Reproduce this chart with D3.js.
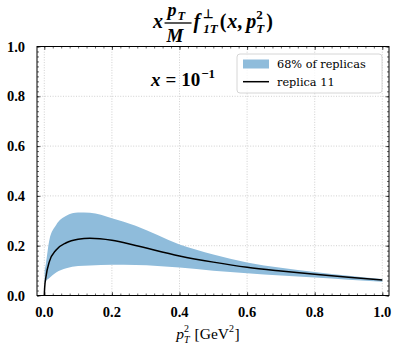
<!DOCTYPE html>
<html>
<head>
<meta charset="utf-8">
<script src="https://cdnjs.cloudflare.com/ajax/libs/d3/7.8.5/d3.min.js"></script>
<style>
  body { margin: 0; background: #fff; }
  svg { display: block; }
  .tick-label { font-family: "Liberation Serif", serif; font-weight: bold; font-size: 14.5px; fill: #000; }
  .math text { font-family: "Liberation Serif", serif; fill: #000; }
  .legendText { font-family: "DejaVu Serif", serif; font-size: 11.3px; fill: #000; }
</style>
</head>
<body>
<svg id="chart"></svg>
<script>
// p_T^2 sample points and the band / replica values
var pt2 = [0, 0.001, 0.005, 0.015, 0.035, 0.065, 0.1, 0.135, 0.2, 0.27, 0.4, 0.5, 0.6, 0.7, 0.8, 0.9, 1.0];
var replica = [0, 0.03, 0.076, 0.136, 0.183, 0.212, 0.226, 0.23, 0.222, 0.201, 0.159, 0.134, 0.113, 0.098, 0.085, 0.073, 0.062];
var bandUpper = [null, 0.1, 0.13, 0.223, 0.283, 0.32, 0.333, 0.332, 0.31, 0.28, 0.205, 0.165, 0.133, 0.111, 0.094, 0.079, 0.066];
var bandLower = [null, 0.05, 0.058, 0.07, 0.092, 0.109, 0.118, 0.12, 0.123, 0.122, 0.112, 0.099, 0.089, 0.08, 0.072, 0.063, 0.055];

var xTicks = [0.0, 0.2, 0.4, 0.6, 0.8, 1.0];
var yTicks = [0.0, 0.2, 0.4, 0.6, 0.8, 1.0];
var legendLabels = ["68% of replicas", "replica 11"];

var W = 399, H = 352;
var margin = {top: 46.5, right: 10, bottom: 56.5, left: 37};
var width = W - margin.left - margin.right,
    height = H - margin.top - margin.bottom;

var svg = d3.select("#chart").attr("width", W).attr("height", H);

var x = d3.scaleLinear().domain([-0.0216, 1.0198]).range([0, width]);
var y = d3.scaleLinear().domain([0, 1]).range([height, 0]);

var g = svg.append("g").attr("transform", "translate(" + margin.left + "," + margin.top + ")");

// grid
g.append("g").selectAll("line").data(xTicks).enter().append("line")
  .attr("x1", function(d) { return x(d); }).attr("x2", function(d) { return x(d); })
  .attr("y1", 0).attr("y2", height)
  .attr("stroke", "#b0b0b0").attr("stroke-width", 0.6).attr("stroke-dasharray", "1,1.6");
g.append("g").selectAll("line").data(yTicks).enter().append("line")
  .attr("y1", function(d) { return y(d); }).attr("y2", function(d) { return y(d); })
  .attr("x1", 0).attr("x2", width)
  .attr("stroke", "#b0b0b0").attr("stroke-width", 0.6).attr("stroke-dasharray", "1,1.6");

// band + replica
var rows = pt2.map(function(d, i) { return {x: d, lo: bandLower[i], hi: bandUpper[i], c: replica[i]}; });

var area = d3.area()
  .defined(function(d) { return d.lo != null; })
  .x(function(d) { return x(d.x); })
  .y0(function(d) { return y(d.lo); })
  .y1(function(d) { return y(d.hi); })
  .curve(d3.curveMonotoneX);

g.append("path").datum(rows).attr("d", area).attr("fill", "#8fbcdb");

var line = d3.line()
  .x(function(d) { return x(d.x); })
  .y(function(d) { return y(d.c); })
  .curve(d3.curveMonotoneX);

g.append("path").datum(rows).attr("d", line)
  .attr("fill", "none").attr("stroke", "#000").attr("stroke-width", 1.5);

// axes: inward ticks on all four sides
var xMinor = d3.range(0, 41).map(function(i) { return i * 0.025; });
var yMinor = d3.range(0, 51).map(function(i) { return i * 0.02; });

function tickAxis(axisFn, scale, vals, size) {
  return axisFn(scale).tickValues(vals).tickSize(size).tickFormat("");
}
g.append("g").attr("class", "axis").attr("transform", "translate(0," + height + ")")
  .call(tickAxis(d3.axisTop, x, xMinor, 2));
g.append("g").attr("class", "axis").attr("transform", "translate(0," + height + ")")
  .call(tickAxis(d3.axisTop, x, xTicks, 3.5));
g.append("g").attr("class", "axis").call(tickAxis(d3.axisBottom, x, xMinor, 2));
g.append("g").attr("class", "axis").call(tickAxis(d3.axisBottom, x, xTicks, 3.5));
g.append("g").attr("class", "axis").call(tickAxis(d3.axisRight, y, yMinor, 2));
g.append("g").attr("class", "axis").call(tickAxis(d3.axisRight, y, yTicks, 3.5));
g.append("g").attr("class", "axis").attr("transform", "translate(" + width + ",0)")
  .call(tickAxis(d3.axisLeft, y, yMinor, 2));
g.append("g").attr("class", "axis").attr("transform", "translate(" + width + ",0)")
  .call(tickAxis(d3.axisLeft, y, yTicks, 3.5));
g.selectAll(".axis .domain").remove();
g.selectAll(".axis line").attr("stroke", "#000").attr("stroke-width", 0.6);

// frame
g.append("rect").attr("width", width).attr("height", height)
  .attr("fill", "none").attr("stroke", "#000").attr("stroke-width", 1);

// tick labels
g.selectAll(".xl").data(xTicks).enter().append("text")
  .attr("class", "tick-label").attr("text-anchor", "middle")
  .attr("x", function(d) { return x(d); }).attr("y", height + 21)
  .text(function(d) { return d.toFixed(1); });
g.selectAll(".yl").data(yTicks).enter().append("text")
  .attr("class", "tick-label").attr("text-anchor", "end")
  .attr("x", -12).attr("y", function(d) { return y(d); }).attr("dy", "0.35em")
  .text(function(d) { return d.toFixed(1); });

// little math typesetter: pieces laid out left to right, sub/sup stacked
// piece: [text, size, italic, baselineShift, stackWithPrevious, gapAfter]
// a piece with text null is a blank of width `size`
function mathText(cx, baseline, weight, pieces) {
  var grp = svg.append("g").attr("class", "math");
  var cur = 0, prevX = 0, prevW = 0, marks = [];
  pieces.forEach(function(p) {
    var w, px;
    if (p[0] === null) {
      marks.push(cur);
      cur += p[1] + (p[5] || 0);
      return;
    }
    var el = grp.append("text")
      .attr("y", baseline + (p[3] || 0))
      .attr("font-size", p[1])
      .attr("font-weight", weight)
      .attr("font-style", p[2] ? "italic" : "normal")
      .text(p[0]);
    w = el.node().getComputedTextLength();
    if (p[4]) { px = prevX; cur = prevX + Math.max(prevW, w); prevW = Math.max(prevW, w); }
    else { px = cur; prevX = cur; prevW = w; cur = cur + w; }
    cur += (p[5] || 0);
    el.attr("x", px);
  });
  var left = cx - cur / 2;
  grp.attr("transform", "translate(" + left + ",0)");
  return marks.map(function(m) { return left + m; });
}

// title: x p_T/M f_1T^perp(x, p_T^2); the fraction goes in the blank
var fracAt = mathText(213, 28, "bold", [
  ["x", 20, true, 0, false, 1.5],
  [null, 27, false, 0, false, 2],
  ["f", 20, true, 0, false, 3],
  ["\u22A5", 12, false, -10, false, 0],
  ["1T", 13, true, 5, true, 2],
  ["(", 20, false, 0, false, 1],
  ["x", 20, true, 0, false, 0],
  [",", 20, false, 0, false, 4],
  ["p", 20, true, 0, false, 0],
  ["2", 13, false, -9, false, 0],
  ["T", 13, true, 5, true, 2],
  [")", 20, false, 0, false, 0]
])[0];

var fr = svg.append("g").attr("class", "math");
fr.append("text").attr("x", fracAt + 3).attr("y", 16).attr("font-size", 18)
  .attr("font-weight", "bold").attr("font-style", "italic").text("p");
fr.append("text").attr("x", fracAt + 13).attr("y", 19.5).attr("font-size", 12.5)
  .attr("font-weight", "bold").attr("font-style", "italic").text("T");
fr.append("line").attr("x1", fracAt).attr("x2", fracAt + 27).attr("y1", 23).attr("y2", 23)
  .attr("stroke", "#000").attr("stroke-width", 1.3);
fr.append("text").attr("x", fracAt + 2).attr("y", 42).attr("font-size", 19)
  .attr("font-weight", "bold").attr("font-style", "italic").text("M");

// x-axis label: p_T^2 [GeV^2]
mathText(208, 339, "normal", [
  ["p", 15.5, true, 0, false, 0],
  ["2", 10, false, -7, false, 0],
  ["T", 10, true, 4, true, 5],
  ["[GeV", 15.5, false, 0, false, 0],
  ["2", 10, false, -7, false, 0.5],
  ["]", 15.5, false, 0, false, 0]
]);

// annotation x = 10^-1
mathText(183, 86, "bold", [
  ["x", 19, true, 0, false, 5],
  ["=", 19, false, 0, false, 5],
  ["10", 19, false, 0, false, 1],
  ["\u22121", 13, false, -8, false, 0]
]);

// legend
var lg = svg.append("g").attr("transform", "translate(237,54)");
lg.append("rect").attr("width", 145).attr("height", 39).attr("rx", 3)
  .attr("fill", "#fff").attr("fill-opacity", 0.8).attr("stroke", "#cccccc").attr("stroke-width", 0.8);
lg.append("rect").attr("x", 6).attr("y", 5.5).attr("width", 26).attr("height", 9).attr("fill", "#8fbcdb");
lg.append("line").attr("x1", 6).attr("x2", 32).attr("y1", 27.7).attr("y2", 27.7)
  .attr("stroke", "#000").attr("stroke-width", 1.5);
lg.selectAll(".legendText").data(legendLabels).enter().append("text")
  .attr("class", "legendText").attr("x", 40)
  .attr("y", function(d, i) { return 14 + i * 17.5; })
  .text(function(d) { return d; });
</script>
</body>
</html>
